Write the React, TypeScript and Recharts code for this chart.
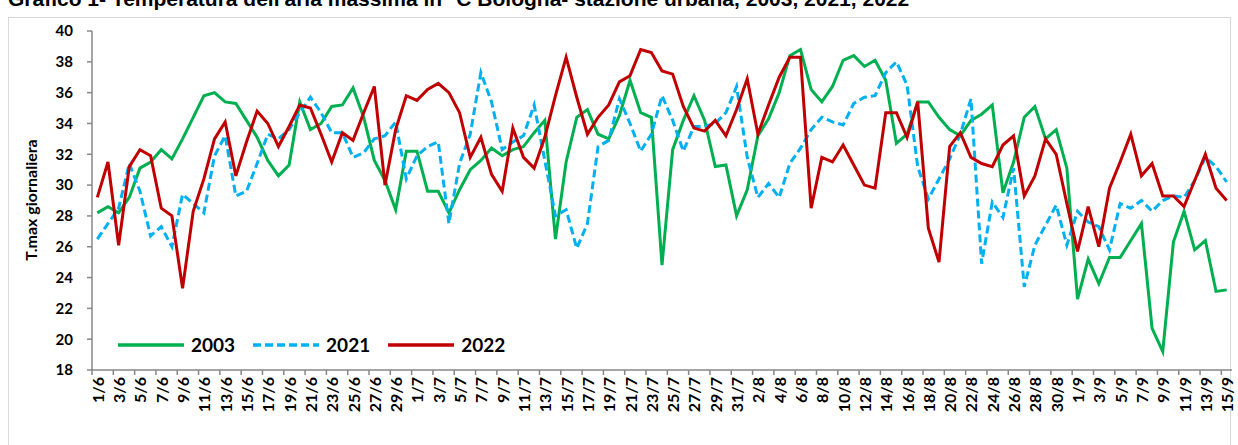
import React from 'react';
import { LineChart, Line, XAxis, YAxis } from 'recharts';

// giorni dal 1/6 al 15/9
const MESI = [
  { mese: 6, giorni: 30 },
  { mese: 7, giorni: 31 },
  { mese: 8, giorni: 31 },
  { mese: 9, giorni: 15 },
];
const GIORNI: string[] = MESI.flatMap(({ mese, giorni }) =>
  Array.from({ length: giorni }, (_, i) => `${i + 1}/${mese}`)
);

const T2003 = [
  28.2, 28.6, 28.2, 29.2, 31.1, 31.5, 32.3, 31.7, 33.0, 34.4,
  35.8, 36.0, 35.4, 35.3, 34.2, 33.1, 31.6, 30.6, 31.3, 35.4,
  33.6, 34.0, 35.1, 35.2, 36.3, 34.4, 31.6, 30.3, 28.4, 32.2,
  32.2, 29.6, 29.6, 28.2, 29.7, 31.0, 31.6, 32.4, 31.9, 32.3,
  32.5, 33.4, 34.2, 26.5, 31.5, 34.4, 34.9, 33.3, 33.0, 34.5,
  36.8, 34.7, 34.4, 24.8, 32.3, 34.2, 35.8, 34.2, 31.2, 31.3,
  28.0, 29.7, 33.2, 34.3, 36.0, 38.4, 38.8, 36.2, 35.4, 36.4,
  38.1, 38.4, 37.7, 38.1, 36.8, 32.7, 33.3, 35.4, 35.4, 34.4,
  33.6, 33.2, 34.2, 34.6, 35.2, 29.5, 31.5, 34.4, 35.1, 33.0,
  33.6, 31.1, 22.6, 25.2, 23.6, 25.3, 25.3, 26.4, 27.5, 20.7,
  19.2, 26.3, 28.3, 25.8, 26.4, 23.1, 23.2,
];

const T2021 = [
  26.5, 27.5, 28.5, 31.4, 29.6, 26.7, 27.3, 26.0, 29.4, 28.8,
  28.2, 31.9, 33.2, 29.3, 29.6, 31.4, 33.3, 33.0, 33.6, 34.7,
  35.7, 34.7, 33.4, 33.4, 31.8, 32.1, 33.0, 33.2, 34.1, 30.4,
  31.9, 32.5, 32.8, 27.5, 31.4, 33.3, 37.3, 35.4, 32.3, 32.8,
  33.2, 35.2, 31.6, 28.0, 28.4, 25.9, 27.5, 32.5, 32.9, 35.6,
  34.0, 32.2, 33.3, 35.8, 34.2, 32.2, 33.8, 33.8, 34.0, 34.7,
  36.4, 31.8, 29.2, 30.1, 29.2, 31.4, 32.4, 33.6, 34.4, 34.1,
  33.9, 35.3, 35.7, 35.8, 37.3, 38.0, 36.5, 31.2, 29.1, 30.4,
  31.7, 33.3, 35.6, 24.9, 28.9, 27.9, 31.1, 23.4, 26.1, 27.4,
  28.7, 26.1, 28.3, 27.6, 27.3, 25.8, 28.8, 28.5, 29.0, 28.3,
  29.0, 29.3, 29.2, 30.3, 31.8, 31.2, 30.2,
];

const T2022 = [
  29.2, 31.5, 26.1, 31.2, 32.3, 31.9, 28.5, 28.0, 23.3, 28.3,
  30.4, 33.0, 34.1, 30.6, 32.8, 34.8, 34.0, 32.5, 33.8, 35.2,
  35.0, 33.3, 31.5, 33.4, 32.9, 34.7, 36.4, 30.0, 33.6, 35.8,
  35.5, 36.2, 36.6, 36.0, 34.7, 31.8, 33.1, 30.7, 29.6, 33.7,
  31.8, 31.1, 33.1, 35.8, 38.3, 35.7, 33.3, 34.4, 35.2, 36.7,
  37.1, 38.8, 38.6, 37.4, 37.2, 35.1, 33.7, 33.5, 34.2, 33.2,
  34.9, 36.9, 33.3, 35.2, 37.0, 38.3, 38.3, 28.5, 31.8, 31.5,
  32.6, 31.3, 30.0, 29.8, 34.7, 34.7, 33.1, 35.4, 27.2, 25.0,
  32.5, 33.4, 31.8, 31.4, 31.2, 32.6, 33.2, 29.3, 30.6, 33.0,
  32.0, 28.8, 25.7, 28.6, 26.0, 29.8, 31.5, 33.3, 30.6, 31.4,
  29.3, 29.3, 28.6, 30.3, 32.0, 29.8, 29.0,
];

const Y_TICKS = [18, 20, 22, 24, 26, 28, 30, 32, 34, 36, 38, 40];

const SERIE = [
  { key: 't2003', nome: '2003', colore: '#00B050', dash: undefined },
  { key: 't2021', nome: '2021', colore: '#00B0F0', dash: '8 4' },
  { key: 't2022', nome: '2022', colore: '#C00000', dash: undefined },
];

const data = GIORNI.map((giorno, i) => ({
  giorno,
  t2003: T2003[i],
  t2021: T2021[i],
  t2022: T2022[i],
}));

const FONT = 'Lato, "Open Sans", sans-serif';
const AXIS = '#878787';
const W = 1238;
const H = 445;
const LEFT = 92;
const RIGHT = 1232;
const BAND = (RIGHT - LEFT) / GIORNI.length;

function XTick(props: any) {
  const { x, y, payload } = props;
  return (
    <g>
      <line x1={x - BAND / 2} x2={x - BAND / 2} y1={y} y2={y + 5} stroke={AXIS} strokeWidth={1.5} />
      <text
        transform={`translate(${x},${y + 7}) rotate(-90)`}
        textAnchor="end"
        dominantBaseline="central"
        fontSize={16}
        fontWeight={700}
        fontFamily={FONT}
        fill="#000"
      >
        {payload.value}
      </text>
    </g>
  );
}

function Legenda() {
  return (
    <div
      style={{
        position: 'absolute',
        left: 118,
        top: 333,
        display: 'flex',
        alignItems: 'center',
        fontFamily: FONT,
        fontWeight: 700,
        fontSize: 19,
      }}
    >
      {SERIE.map((s) => (
        <div key={s.key} style={{ display: 'flex', alignItems: 'center', marginRight: 18 }}>
          <svg width={66} height={6} style={{ marginRight: 7 }}>
            <line x1={0} x2={66} y1={3} y2={3} stroke={s.colore} strokeWidth={3.5} strokeDasharray={s.dash} />
          </svg>
          <span>{s.nome}</span>
        </div>
      ))}
    </div>
  );
}

export default function App() {
  return (
    <div style={{ position: 'absolute', left: 0, top: 0, width: W, height: H, overflow: 'hidden', background: '#fff' }}>
      <div
        style={{
          position: 'absolute',
          left: 8,
          top: -12,
          fontFamily: '"Liberation Sans", Arial, sans-serif',
          fontWeight: 700,
          fontSize: 21,
          lineHeight: '21px',
          whiteSpace: 'nowrap',
        }}
      >
        Grafico 1- Temperatura dell'aria massima in °C Bologna- stazione urbana, 2003, 2021, 2022
      </div>
      <div
        style={{
          position: 'absolute',
          left: 8,
          top: 17,
          width: 1223,
          height: 460,
          border: '1px solid #d9d9d9',
          boxSizing: 'border-box',
        }}
      />
      <div
        style={{
          position: 'absolute',
          left: 30,
          top: 200,
          transform: 'translate(-50%, -50%) rotate(-90deg)',
          fontFamily: FONT,
          fontWeight: 700,
          fontSize: 16,
          whiteSpace: 'nowrap',
        }}
      >
        T.max giornaliera
      </div>
      <div style={{ position: 'absolute', left: 0, top: 0 }}>
        <LineChart width={W} height={H} data={data} margin={{ top: 31, right: W - RIGHT, left: LEFT - 50, bottom: 5 }}>
          <XAxis
            dataKey="giorno"
            interval={1}
            tick={<XTick />}
            tickLine={false}
            tickSize={0}
            tickMargin={0}
            axisLine={{ stroke: AXIS, strokeWidth: 1.5 }}
            padding={{ left: BAND / 2, right: BAND / 2 }}
            height={70}
          />
          <YAxis
            domain={[18, 40]}
            ticks={Y_TICKS}
            width={50}
            tickSize={5}
            tickMargin={14}
            axisLine={{ stroke: AXIS, strokeWidth: 1.5 }}
            tickLine={{ stroke: AXIS, strokeWidth: 1.5 }}
            tick={{ fill: '#000', fontSize: 15, fontWeight: 700, fontFamily: FONT }}
          />
          {SERIE.map((s) => (
            <Line
              key={s.key}
              dataKey={s.key}
              name={s.nome}
              stroke={s.colore}
              strokeWidth={3}
              strokeDasharray={s.dash}
              dot={false}
              activeDot={false}
              isAnimationActive={false}
            />
          ))}
        </LineChart>
      </div>
      <Legenda />
    </div>
  );
}
